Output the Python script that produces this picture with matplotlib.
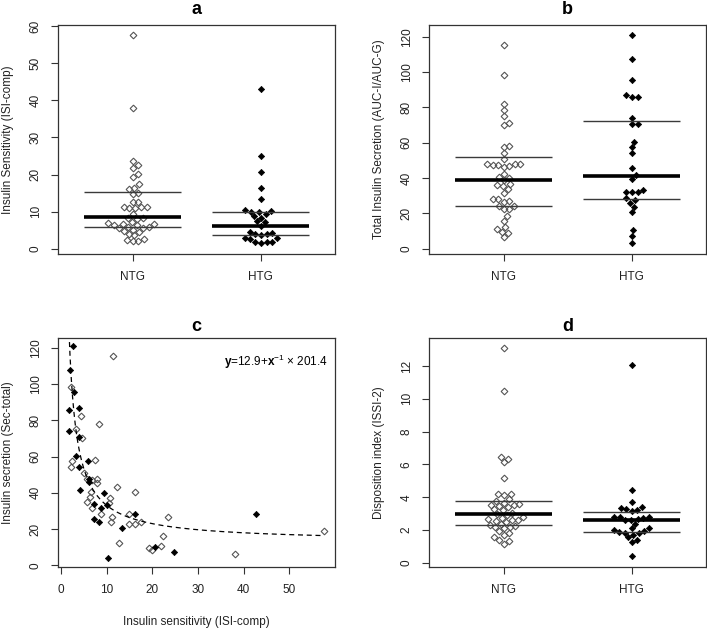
import numpy as np
import matplotlib
matplotlib.use('Agg')
import matplotlib.pyplot as plt

plt.rcParams['font.family'] = ['Liberation Sans', 'DejaVu Sans']
plt.rcParams['mathtext.fontset'] = 'custom'
plt.rcParams['mathtext.rm'] = 'Liberation Sans'
plt.rcParams['mathtext.bf'] = 'Liberation Sans:bold'

groups = ['NTG', 'HTG']

# a - insulin sensitivity (ISI-comp)
isi_ntg = [57.6, 38.0, 23.6, 22.6, 21.8, 20.2, 19.4, 17.4, 16.4, 16.0, 15.1, 14.9,
           12.7, 12.5, 11.4, 11.3, 11.2, 11.0, 10.9, 9.5, 8.4, 8.2, 7.9, 7.2, 6.9,
           6.8, 6.6, 6.5, 6.3, 6.0, 5.8, 5.6, 5.5, 5.2, 4.8, 4.5, 4.0, 3.6, 2.6,
           2.3, 2.2, 2.1]
isi_htg = [43.0, 24.9, 20.7, 16.4, 13.5, 10.4, 10.2, 10.0, 9.8, 9.5, 8.8, 8.4,
           7.4, 7.1, 6.2, 4.6, 4.2, 4.0, 3.9, 3.8, 3.0, 2.9, 2.7, 1.9, 1.8, 1.8, 1.7]
isi_q1 = [5.9, 3.6]
isi_med = [8.5, 6.2]
isi_q3 = [15.2, 10.0]

# b - total insulin secretion (AUC-I/AUC-G)
sec_ntg = [115.5, 98.3, 81.9, 78.5, 75.1, 71.0, 70.0, 58.3, 57.7, 54.3, 50.9,
           48.1, 48.1, 47.5, 47.5, 46.1, 47.0, 48.0, 42.4, 40.6, 40.2, 38.9, 36.6,
           36.0, 35.5, 33.6, 31.3, 28.1, 28.0, 26.8, 26.5, 24.2, 24.0, 22.6, 22.4,
           18.5, 15.8, 12.5, 11.0, 9.6, 8.7, 6.4]
sec_htg = [120.9, 107.2, 95.7, 87.0, 85.7, 85.7, 74.1, 70.6, 70.6, 60.6, 57.7,
           54.3, 45.5, 41.7, 39.4, 33.2, 32.3, 32.1, 32.1, 28.5, 27.6, 26.0, 23.8,
           20.9, 10.6, 7.4, 3.4]
sec_q1 = [24.0, 28.0]
sec_med = [39.0, 41.0]
sec_q3 = [52.0, 72.0]

# c - secretion vs sensitivity, fit y = a + b/x
c_ntg_x = [11.4, 2.1, 4.46, 8.26, 3.36, 4.6, 7.46, 2.4, 2.1, 5.04, 5.78, 6.87,
           7.97, 7.8, 12.2, 16.1, 6.6, 6.36, 10.75, 5.78, 10.5, 6.8, 8.84, 14.9,
           11.1, 10.9, 17.4, 14.8, 16.2, 23.5, 22.3, 12.6, 21.9, 19.2, 20.0, 38.0,
           57.6]
c_ntg_y = [115.2, 98.1, 82.4, 78.2, 75.0, 70.1, 58.3, 57.7, 54.4, 51.1, 47.8,
           47.0, 47.4, 45.5, 43.0, 40.6, 40.4, 37.8, 36.9, 34.7, 34.1, 31.7, 28.4,
           28.4, 26.7, 24.0, 24.0, 22.7, 22.7, 26.4, 16.2, 12.5, 10.9, 9.4, 8.7,
           6.4, 18.9]
c_htg_x = [2.56, 1.9, 2.78, 1.83, 4.02, 1.68, 3.87, 3.22, 3.87, 5.92, 4.24, 6.14,
           6.1, 9.5, 7.24, 10.1, 8.7, 7.2, 8.26, 16.2, 13.45, 10.3, 20.5, 24.8, 42.7]
c_htg_y = [121.1, 107.5, 95.5, 85.7, 86.5, 73.9, 70.8, 60.1, 54.4, 57.5, 41.7,
           46.1, 47.5, 39.8, 33.9, 33.2, 31.7, 25.6, 24.0, 28.4, 20.8, 4.1, 10.3,
           7.4, 28.5]
fit_a = 12.9
fit_b = 201.4

# d - disposition index (ISSI-2)
di_ntg = [13.08, 10.49, 6.45, 6.35, 6.14, 5.19, 4.21, 4.20, 4.12, 3.88, 3.75,
          3.67, 3.62, 3.55, 3.55, 3.47, 3.39, 3.26, 3.22, 3.02, 2.98, 2.94, 2.78,
          2.75, 2.67, 2.61, 2.60, 2.57, 2.52, 2.40, 2.33, 2.25, 2.20, 2.16, 2.10,
          1.92, 1.80, 1.71, 1.55, 1.40, 1.35, 1.18]
di_htg = [12.07, 4.45, 3.74, 3.43, 3.33, 3.29, 3.23, 3.14, 2.82, 2.78, 2.78, 2.74,
          2.70, 2.61, 2.60, 2.37, 2.12, 2.10, 1.98, 1.92, 1.90, 1.85, 1.80, 1.71,
          1.55, 1.39, 1.27, 0.41]
di_q1 = [2.3, 1.9]
di_med = [2.95, 2.6]
di_q3 = [3.75, 3.1]

AXCOL = '#333333'
OPEN = dict(marker='D', ms=3.4, mfc='none', mec='#555555', mew=0.8, ls='none')
FILL = dict(marker='D', ms=3.2, mfc='black', mec='black', mew=0.5, ls='none')


def swarm_x(ax, values, xc, size=5.8):
    # simple beeswarm in pixel space, each point as near the centre as it fits
    pts = ax.transData.transform(np.column_stack([np.full(len(values), xc), values]))
    yp = pts[:, 1]
    placed = []
    xs = np.zeros(len(values))
    for i in np.argsort(yp):
        y = yp[i]
        cands = [0.0]
        for px, py in placed:
            dy = abs(py - y)
            if dy < size:
                dx = np.sqrt(size ** 2 - dy ** 2)
                cands += [px + dx, px - dx]
        cands.sort(key=abs)
        for c in cands:
            if all((c - px) ** 2 + (y - py) ** 2 >= size ** 2 - 1e-6 for px, py in placed):
                break
        placed.append((c, y))
        xs[i] = c
    unit = ax.transData.transform((xc + 1, 0))[0] - ax.transData.transform((xc, 0))[0]
    return xc + xs / unit


def r_axes(ax, yticks, ylabel, title, pad):
    for s in ax.spines.values():
        s.set_color(AXCOL)
        s.set_linewidth(0.9)
    ax.tick_params(direction='out', length=5, width=0.8, colors=AXCOL,
                   labelcolor='#222222', labelsize=8.5, pad=7)
    ax.set_yticks(yticks)
    ax.set_yticklabels([str(t) for t in yticks], rotation=90, va='center')
    ax.set_ylabel(ylabel, fontsize=8.5, color='#222222', va='center')
    ax.yaxis.set_label_coords(-0.182, 0.5)
    ax.set_title(title, fontsize=13, fontweight='bold', pad=pad)


def swarm_panel(ax, ntg, htg, q1, med, q3, ylim, yticks, ylabel, title, pad=8):
    ax.set_xlim(0.42, 2.58)
    ax.set_ylim(*ylim)
    for k, (vals, style) in enumerate([(ntg, OPEN), (htg, FILL)]):
        xc = k + 1
        ax.plot(swarm_x(ax, vals, xc), vals, **style, zorder=2)
        ax.hlines([q1[k], q3[k]], xc - 0.38, xc + 0.38, color='#3a3a3a', lw=1.0, zorder=3)
        ax.hlines(med[k], xc - 0.38, xc + 0.38, color='black', lw=2.6, zorder=3)
    ax.set_xticks([1, 2])
    ax.set_xticklabels(groups)
    r_axes(ax, yticks, ylabel, title, pad)


fig = plt.figure(figsize=(7.07, 6.30), dpi=100)
ax_a = fig.add_axes([0.0825, 0.5968, 0.3914, 0.3635])
ax_b = fig.add_axes([0.6072, 0.5968, 0.3914, 0.3635])
ax_c = fig.add_axes([0.0825, 0.0995, 0.3914, 0.3635])
ax_d = fig.add_axes([0.6072, 0.0995, 0.3914, 0.3635])

swarm_panel(ax_a, isi_ntg, isi_htg, isi_q1, isi_med, isi_q3, (-1.4, 60.3),
            range(0, 61, 10), 'Insulin Sensitivity (ISI-comp)', 'a')
swarm_panel(ax_b, sec_ntg, sec_htg, sec_q1, sec_med, sec_q3, (-3.0, 126.6),
            range(0, 121, 20), 'Total Insulin Secretion (AUC-I/AUC-G)', 'b')
swarm_panel(ax_d, di_ntg, di_htg, di_q1, di_med, di_q3, (-0.27, 13.69),
            range(0, 13, 2), 'Disposition index (ISSI-2)', 'd', pad=5)

# c: scatter with the fitted hyperbola
ax_c.set_xlim(-0.6, 60.0)
ax_c.set_ylim(-1.1, 125.2)
ax_c.plot(c_ntg_x, c_ntg_y, **OPEN)
ax_c.plot(c_htg_x, c_htg_y, **FILL)
xx = np.linspace(min(c_htg_x + c_ntg_x), max(c_htg_x + c_ntg_x), 400)
ax_c.plot(xx, fit_a + fit_b / xx, color='black', lw=0.9, ls=(0, (4, 3)))
ax_c.set_xticks(range(0, 51, 10))
ax_c.set_xlabel('Insulin sensitivity (ISI-comp)', fontsize=8.5, color='#222222', va='center')
ax_c.xaxis.set_label_coords(0.5, -0.239)
ax_c.text(0.975, 0.895, r'$\mathbf{y}$=12.9+$\mathbf{x}^{-1}$ × 201.4',
          transform=ax_c.transAxes, ha='right', va='center', fontsize=8.5)
r_axes(ax_c, range(0, 121, 20), 'Insulin secretion (Sec-total)', 'c', 5)

fig.savefig('out.png', dpi=100)
